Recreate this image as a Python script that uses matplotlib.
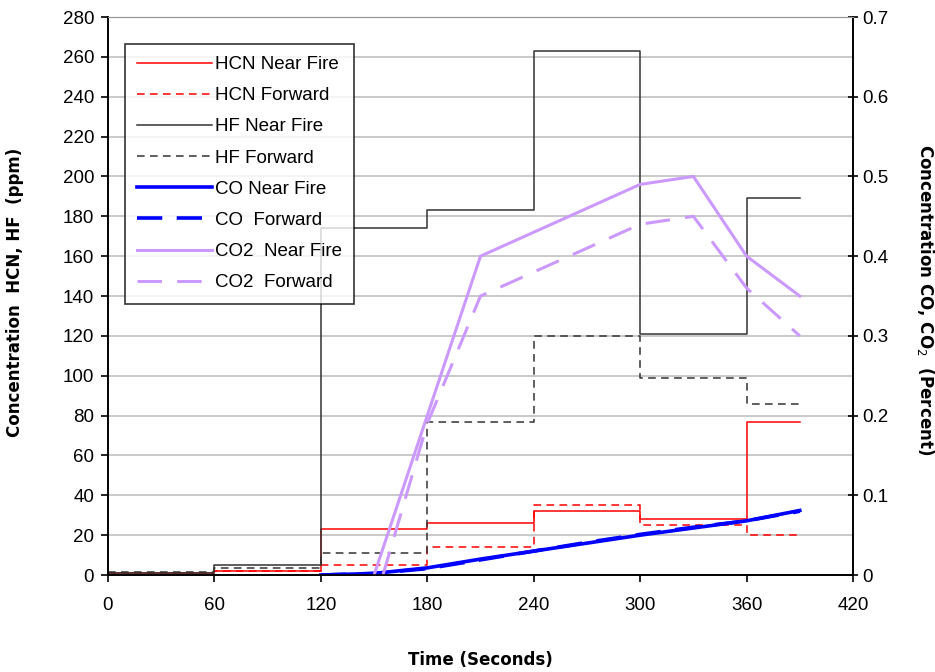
import numpy as np
import matplotlib.pyplot as plt

plt.rcParams['font.family'] = ['Liberation Sans', 'DejaVu Sans']

# step series (ppm), one value per 60 s interval, last value held to 390 s
step_t = [0, 60, 120, 180, 240, 300, 360, 390]
hcn_near = [1, 2, 23, 26, 32, 28, 77]
hcn_fwd = [1, 2, 5, 14, 35, 25, 20]
hf_near = [1, 5, 174, 183, 263, 121, 189]
hf_fwd = [1.5, 3.5, 11, 77, 120, 99, 86]

# CO (percent)
co_t = [120, 150, 180, 210, 240, 270, 300, 330, 360, 390]
co_near = [0.0, 0.002, 0.009, 0.02, 0.03, 0.04, 0.05, 0.059, 0.068, 0.081]
co_fwd = [0.0, 0.002, 0.008, 0.019, 0.03, 0.041, 0.051, 0.06, 0.068, 0.08]

# CO2 (percent)
co2_t = [150, 180, 210, 240, 270, 300, 330, 360, 390]
co2_near = [0.0, 0.2, 0.4, 0.43, 0.46, 0.49, 0.5, 0.4, 0.35]
co2_t_fwd = [155, 180, 210, 240, 270, 300, 330, 360, 390]
co2_fwd = [0.0, 0.19, 0.35, 0.38, 0.41, 0.44, 0.45, 0.36, 0.30]


def held(v):
    return list(v) + [v[-1]]


fig = plt.figure(figsize=(9.35, 6.72), dpi=100)
ax = fig.add_axes([0.1155, 0.1443, 0.7968, 0.8304])
ax2 = ax.twinx()

ax.set_axisbelow(True)
ax.grid(axis='y', color='#c0c0c0', linewidth=1.2)

l1, = ax.step(step_t, held(hcn_near), where='post', color='#ff0000', lw=1.1, label='HCN Near Fire')
l2, = ax.step(step_t, held(hcn_fwd), where='post', color='#ff0000', lw=1.1, dashes=(5, 3.5), label='HCN Forward')
l3, = ax.step(step_t, held(hf_near), where='post', color='#333333', lw=1.1, label='HF Near Fire')
l4, = ax.step(step_t, held(hf_fwd), where='post', color='#333333', lw=1.1, dashes=(5, 3.5), label='HF Forward')

l5, = ax2.plot(co_t, co_near, color='#0000ff', lw=2.6, label='CO Near Fire')
l6, = ax2.plot(co_t, co_fwd, color='#0000ff', lw=2.6, dashes=(7, 4), label='CO  Forward')
l7, = ax2.plot(co2_t, co2_near, color='#cc99ff', lw=2.2, label='CO2  Near Fire')
l8, = ax2.plot(co2_t_fwd, co2_fwd, color='#cc99ff', lw=2.2, dashes=(8, 5), label='CO2  Forward')

ax.set_xlim(0, 420)
ax.set_ylim(0, 280)
ax2.set_ylim(0, 0.7)
ax.set_xticks(np.arange(0, 421, 60))
ax.set_yticks(np.arange(0, 281, 20))
ax2.set_yticks(np.arange(0, 0.71, 0.1))
ax2.set_yticklabels(['0'] + ['%.1f' % v for v in np.arange(0.1, 0.71, 0.1)])

ax.tick_params(labelsize=13.5, length=5, width=1.2, color='black')
ax.tick_params(axis='y', pad=5)
ax.tick_params(axis='x', pad=11)
ax2.tick_params(labelsize=13.5, length=7, width=1.2, direction='inout', pad=3)

for a in (ax, ax2):
    a.spines['top'].set_color('#999999')
    a.spines['left'].set_linewidth(1.2)
    a.spines['right'].set_linewidth(1.2)
    a.spines['bottom'].set_linewidth(1.2)

lab = dict(fontsize=12, fontweight='bold', family='DejaVu Sans')
ax.set_xlabel('Time (Seconds)', **lab)
ax.xaxis.set_label_coords(0.5, -0.152)
ax.xaxis.label.set_va('center')
ax.set_ylabel('Concentration  HCN, HF  (ppm)', **lab)
ax.yaxis.set_label_coords(-0.125, 0.507)
ax.yaxis.label.set_va('center')
ax2.set_ylabel('Concentration CO, CO$_2$  (Percent)', rotation=270, **lab)
ax2.yaxis.set_label_coords(1.097, 0.493)
ax2.yaxis.label.set_va('center')

handles = [l1, l2, l3, l4, l5, l6, l7, l8]
leg = ax2.legend(handles=handles, loc='upper left', bbox_to_anchor=(0.023, 0.952),
                 fontsize=13.5, frameon=True, fancybox=False, handlelength=4.0,
                 handletextpad=0.15, labelspacing=0.75, borderpad=0.65, borderaxespad=0)
leg.get_frame().set_edgecolor('black')
leg.get_frame().set_linewidth(1.2)

fig.savefig('out.png', dpi=100)
